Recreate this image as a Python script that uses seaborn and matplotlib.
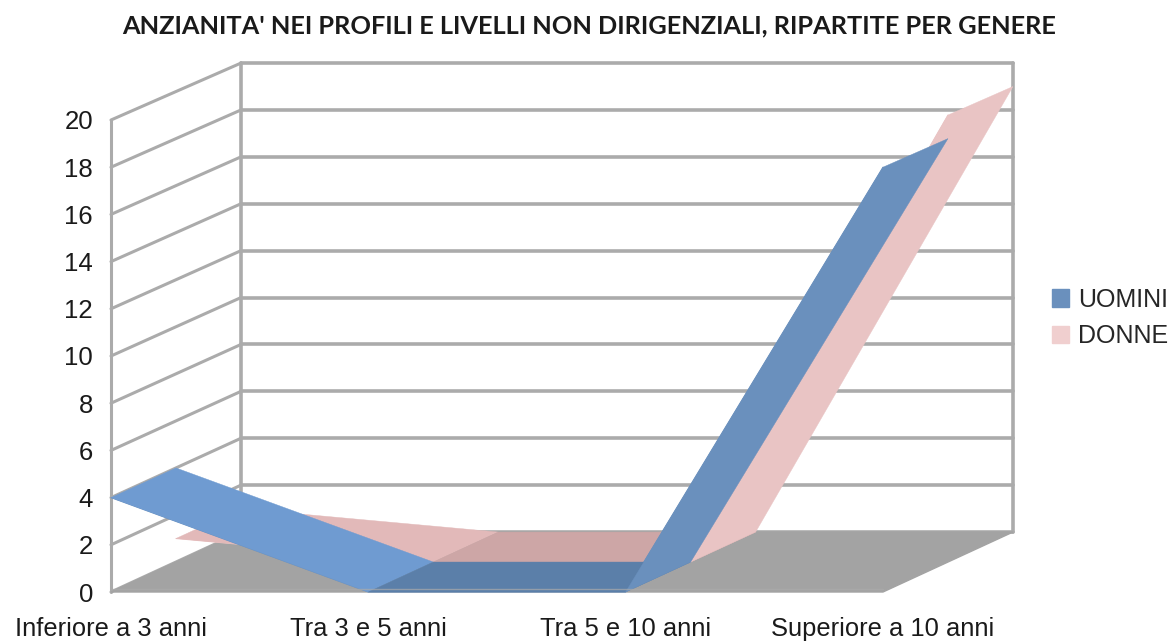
#!/usr/bin/env python3
"""Anzianita' per genere: grafico ad aree 3D finto, proiettato a mano."""
import numpy as np
import pandas as pd
import matplotlib
matplotlib.use('Agg')
import matplotlib.pyplot as plt
from matplotlib.patches import Patch
import seaborn as sns

categories = ['Inferiore a 3 anni', 'Tra 3 e 5 anni', 'Tra 5 e 10 anni', 'Superiore a 10 anni']
uomini = [4, 0, 0, 18]
donne = [1, 0, 0, 19]
y_ticks = list(range(0, 21, 2))

TITLE = "ANZIANITA' NEI PROFILI E LIVELLI NON DIRIGENZIALI, RIPARTITE PER GENERE"

# depth of the box, in data units (1 = full depth)
DX = 0.505
DY = 2.54
SHRINK = 0.0064  # back wall is a bit shorter than the front

WALL = '#ababab'
FLOOR = '#a3a3a3'
TEXT = '#1a1a1a'
BLUE = ['#6f9bd1', '#5b7fa9', '#6a90bd']
PINK = ['#e2b9b9', '#cda6a6', '#e9c4c4']


def project(x, y, depth):
    return np.asarray(x) + depth * DX, np.asarray(y) * (1 - SHRINK * depth) + depth * DY


def draw_ribbon(ax, values, d0, d1, colors, z):
    xs = np.arange(len(values))
    fx, fy = project(xs, values, d0)
    sns.lineplot(x=fx, y=fy, color=colors[2], lw=0.8, sort=False, ax=ax,
                 clip_on=False, zorder=z, errorbar=None)
    for i in range(len(values) - 1):
        ax0, ay0 = project(xs[i:i + 2], values[i:i + 2], d0)
        bx0, by0 = project(xs[i:i + 2], values[i:i + 2], d1)
        ax.fill(np.r_[ax0, bx0[::-1]], np.r_[ay0, by0[::-1]], color=colors[i],
                lw=0.3, clip_on=False, zorder=z + 1)


sns.set_theme(style='white')
plt.rcParams['font.family'] = ['Liberation Sans', 'DejaVu Sans']

fig = plt.figure(figsize=(11.71, 6.44), dpi=100)
ax = fig.add_axes([111 / 1171, 1 - 592 / 644, (883 - 111) / 1171, (592 - 120) / 644])
ax.set_xlim(0, len(categories) - 1)
ax.set_ylim(0, 20)

n = len(categories) - 1
top = y_ticks[-1]

# walls and grid
for v in y_ticks:
    bx, by = project([0, n], [v, v], 1)
    ax.plot(bx, by, color=WALL, lw=2.6, clip_on=False, zorder=1)
    sx, sy = project([0, 0], [v, v], np.array([0, 1]))
    ax.plot(sx, sy, color=WALL, lw=2.2, clip_on=False, zorder=1)
ax.plot([0, 0], [0, top], color=WALL, lw=2.2, clip_on=False, zorder=1)
for c in (0, n):
    bx, by = project([c, c], [0, top], 1)
    ax.plot(bx, by, color=WALL, lw=2.6, clip_on=False, zorder=1)

# floor
fx, fy = project([0, n, n, 0], [0, 0, 0, 0], np.array([0, 0, 1, 1]))
ax.fill(fx, fy, color=FLOOR, clip_on=False, zorder=2)

draw_ribbon(ax, donne, 0.5, 1, PINK, 3)
draw_ribbon(ax, uomini, 0, 0.5, BLUE, 5)

# front edge of the floor, shows through the flat blue part
ax.plot([0, n], [0.12, 0.12], color=WALL, lw=1.0, alpha=0.7, clip_on=False, zorder=7)

ax.set_xticks(range(len(categories)))
ax.set_xticklabels(categories, fontsize=18.4, color=TEXT)
ax.set_yticks(y_ticks)
ax.set_yticklabels([str(v) for v in y_ticks], fontsize=18.5, color=TEXT)
ax.tick_params(axis='x', length=0, pad=18)
ax.tick_params(axis='y', length=0, pad=13)
ax.get_xticklabels()[0].set_x(-0.015)
for s in ax.spines.values():
    s.set_visible(False)
ax.patch.set_alpha(0)

fig.text(589 / 1171, 1 - 26 / 644, TITLE, ha='center', va='center', fontsize=18.3,
         fontweight='bold', family='Lato', color=TEXT)

handles = [Patch(color=BLUE[2], label='UOMINI'), Patch(color='#f0cfcf', label='DONNE')]
fig.legend(handles=handles, loc='center left', bbox_to_anchor=(1052 / 1171, 1 - 318 / 644),
           frameon=False, fontsize=18, handlelength=0.68, handleheight=0.68,
           handletextpad=0.35, labelspacing=0.5, borderpad=0, borderaxespad=0)

fig.savefig('out.png', dpi=100)
plt.close(fig)
